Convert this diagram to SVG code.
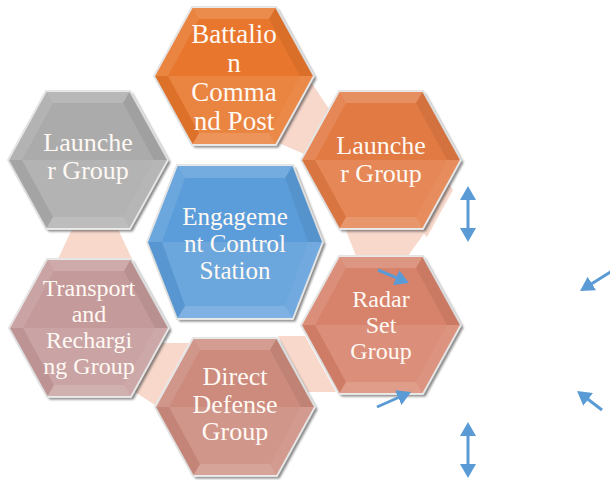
<svg xmlns="http://www.w3.org/2000/svg" width="610" height="480" viewBox="0 0 610 480">
<style>
.t{font-family:"Liberation Serif","Times New Roman",serif;fill:#fff9f4;text-anchor:middle}
.pale{fill:#f7d8cb}
.arr{stroke:#5b9bd5;stroke-width:3;fill:none}
.hx{stroke:#e4e4e4;stroke-width:2}
</style>
<defs>
<filter id="blur" x="-10%" y="-10%" width="120%" height="120%"><feGaussianBlur stdDeviation="1.2"/></filter>
<polygon id="hx" points="-80,0 -42,-69 42,-69 80,0 42,69 -42,69"/>
<g id="bev">
<polygon points="-42,-69 42,-69 35,-57 -35,-57" fill="#fff" opacity="0.16"/>
<polygon points="42,-69 80,0 66,0 35,-57" fill="#000" opacity="0.06"/>
<polygon points="80,0 42,69 35,57 66,0" fill="#fff" opacity="0.14"/>
<polygon points="42,69 -42,69 -35,57 35,57" fill="#fff" opacity="0.22"/>
<polygon points="-42,69 -80,0 -66,0 -35,57" fill="#000" opacity="0.04"/>
<polygon points="-80,0 -42,-69 -35,-57 -66,0" fill="#fff" opacity="0.10"/>
<polygon points="-66,0 66,0 35,57 -35,57" fill="#fff" opacity="0.10"/>
</g>
<polygon id="hxE" points="-88,0 -58,-77 58,-77 88,0 58,77 -58,77"/>
<g id="bevE">
<polygon points="-58,-77 58,-77 50,-64 -50,-64" fill="#fff" opacity="0.16"/>
<polygon points="58,-77 88,0 73,0 50,-64" fill="#000" opacity="0.06"/>
<polygon points="88,0 58,77 50,64 73,0" fill="#fff" opacity="0.14"/>
<polygon points="58,77 -58,77 -50,64 50,64" fill="#fff" opacity="0.22"/>
<polygon points="-58,77 -88,0 -73,0 -50,64" fill="#000" opacity="0.04"/>
<polygon points="-88,0 -58,-77 -50,-64 -73,0" fill="#fff" opacity="0.10"/>
<polygon points="-73,0 73,0 50,64 -50,64" fill="#fff" opacity="0.10"/>
</g>
<marker id="ah" viewBox="0 0 14 16" refX="4" refY="8" markerWidth="14" markerHeight="16" markerUnits="userSpaceOnUse" orient="auto-start-reverse">
<path d="M0,0 L14,8 L0,16 Z" fill="#5b9bd5"/>
</marker>
</defs>

<g id="connectors">
<polygon class="pale" points="311,82 279,143 304,154 331,112"/>
<polygon class="pale" points="345,228 428,228 408,256 356,256"/>
<polygon class="pale" points="444,176 453,190 427,237 419,229"/>
<polygon class="pale" points="278,336 305,336 336,392 308,392"/>
<polygon class="pale" points="161,343 189,343 155,405 135,392"/>
<polygon class="pale" points="72,229 118,229 132,259 58,259"/>
</g>

<g id="battalion" transform="translate(234,76)">
<use href="#hx" transform="translate(2.5,2.5)" fill="#3a3a3a" opacity="0.6" filter="url(#blur)"/>
<use href="#hx" class="hx" fill="#e8762c"/>
<use href="#bev"/>
<text class="t" font-size="27"><tspan x="0" y="-33">Battalio</tspan><tspan x="0" y="-4">n</tspan><tspan x="0" y="25">Comma</tspan><tspan x="0" y="54">nd Post</tspan></text>
</g>

<g id="launcher-left" transform="translate(88,160)">
<use href="#hx" transform="translate(2.5,2.5)" fill="#3a3a3a" opacity="0.6" filter="url(#blur)"/>
<use href="#hx" class="hx" fill="#ababab"/>
<use href="#bev"/>
<text class="t" font-size="26"><tspan x="0" y="-9">Launche</tspan><tspan x="0" y="19">r  Group</tspan></text>
</g>

<g id="launcher-right" transform="translate(381,160)">
<use href="#hx" transform="translate(2.5,2.5)" fill="#3a3a3a" opacity="0.6" filter="url(#blur)"/>
<use href="#hx" class="hx" fill="#e27a43"/>
<use href="#bev"/>
<text class="t" font-size="26"><tspan x="0" y="-6">Launche</tspan><tspan x="0" y="22">r  Group</tspan></text>
</g>

<g id="engagement" transform="translate(235,242)">
<use href="#hxE" transform="translate(2.5,2.5)" fill="#3a3a3a" opacity="0.6" filter="url(#blur)"/>
<use href="#hxE" class="hx" fill="#5b9dda"/>
<use href="#bevE"/>
<text class="t" font-size="25"><tspan x="0" y="-17">Engageme</tspan><tspan x="0" y="10">nt  Control</tspan><tspan x="0" y="37">Station</tspan></text>
</g>

<g id="radar" transform="translate(381,325)">
<use href="#hx" transform="translate(2.5,2.5)" fill="#3a3a3a" opacity="0.6" filter="url(#blur)"/>
<use href="#hx" class="hx" fill="#d7826a"/>
<use href="#bev"/>
<text class="t" font-size="24"><tspan x="0" y="-18">Radar</tspan><tspan x="0" y="8">Set</tspan><tspan x="0" y="34">Group</tspan></text>
</g>

<g id="transport" transform="translate(89,328)">
<use href="#hx" transform="translate(2.5,2.5)" fill="#3a3a3a" opacity="0.6" filter="url(#blur)"/>
<use href="#hx" class="hx" fill="#c59a9a"/>
<use href="#bev"/>
<text class="t" font-size="24"><tspan x="0" y="-32">Transport</tspan><tspan x="0" y="-6">and</tspan><tspan x="0" y="20">Rechargi</tspan><tspan x="0" y="46">ng Group</tspan></text>
</g>

<g id="direct-defense" transform="translate(235,407)">
<use href="#hx" transform="translate(2.5,2.5)" fill="#3a3a3a" opacity="0.6" filter="url(#blur)"/>
<use href="#hx" class="hx" fill="#cc8b7d"/>
<use href="#bev"/>
<text class="t" font-size="26"><tspan x="0" y="-22">Direct</tspan><tspan x="0" y="6">Defense</tspan><tspan x="0" y="33">Group</tspan></text>
</g>

<g id="arrows">
<line class="arr" x1="468" y1="196" x2="468" y2="232" marker-start="url(#ah)" marker-end="url(#ah)"/>
<line class="arr" x1="468" y1="432" x2="468" y2="468" marker-start="url(#ah)" marker-end="url(#ah)"/>
<line class="arr" x1="612" y1="271" x2="588.5" y2="285.7" marker-end="url(#ah)"/>
<line class="arr" x1="602" y1="410" x2="585" y2="397" marker-end="url(#ah)"/>
<line class="arr" x1="378" y1="270" x2="399.8" y2="279.1" marker-end="url(#ah)"/>
<line class="arr" x1="377" y1="407" x2="401.9" y2="396" marker-end="url(#ah)"/>
</g>
</svg>
